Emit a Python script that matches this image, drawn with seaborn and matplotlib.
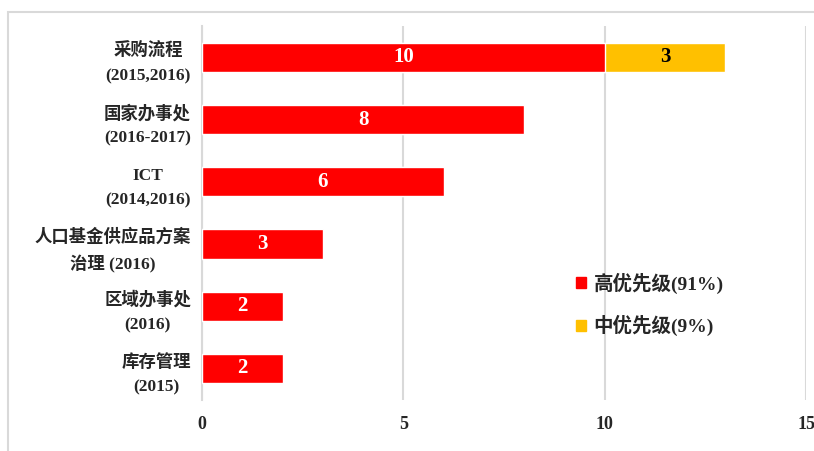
import pandas as pd
import matplotlib.pyplot as plt
import matplotlib.patches as mpatches
import seaborn as sns

# 数据
categories = ["采购流程\n(2015,2016)", "国家办事处\n(2016-2017)", "ICT\n(2014,2016)",
              "人口基金供应品方案\n治理 (2016)", "区域办事处\n(2016)", "库存管理\n(2015)"]
high_priority = [10, 8, 6, 3, 2, 2]
medium_priority = [3, 0, 0, 0, 0, 0]
legend_labels = ["高优先级(91%)", "中优先级(9%)"]
x_ticks = [0, 5, 10, 15]

RED = "#FF0000"
GOLD = "#FFC000"
GRID = "#D9D9D9"
FONTS = ["Liberation Serif", "Noto Sans CJK SC", "DejaVu Sans"]

sns.set_style("white")
plt.rcParams["font.family"] = FONTS
plt.rcParams["font.weight"] = "bold"

df = pd.DataFrame({"cat": categories, "high": high_priority, "medium": medium_priority})
df["total"] = df["high"] + df["medium"]

fig = plt.figure(figsize=(8.14, 4.51), dpi=100)
ax = fig.add_axes([0.2482, 0.114, 0.742, 0.828])

# 堆叠条形：先画总数（中优先级），再覆盖高优先级
sns.barplot(data=df, x="total", y="cat", orient="h", color=GOLD, width=0.47,
            saturation=1, ax=ax, zorder=3)
sns.barplot(data=df, x="high", y="cat", orient="h", color=RED, width=0.47,
            saturation=1, ax=ax, zorder=3)

for i, row in df.iterrows():
    ax.text(row["high"] / 2, i, str(row["high"]), ha="center", va="center",
            color="white", fontsize=15, fontweight="bold", family=FONTS, zorder=4)
    if row["medium"] > 0:
        ax.text(row["high"] + row["medium"] / 2, i, str(row["medium"]), ha="center",
                va="center", color="black", fontsize=15, fontweight="bold",
                family=FONTS, zorder=4)

ax.set_xlim(0, 15)
ax.set_ylim(5.5, -0.5)
ax.set_xticks(x_ticks)
ax.set_xticklabels([str(t) for t in x_ticks], fontsize=13, fontweight="bold")
ax.set_yticks(range(len(categories)))
ax.set_yticklabels(categories, fontsize=12.5, fontweight="bold",
                   multialignment="center", linespacing=1.7)
ax.tick_params(axis="x", length=0, pad=12)
ax.tick_params(axis="y", length=0, pad=8)
ax.set_xlabel("")
ax.set_ylabel("")
ax.xaxis.grid(True, color=GRID, linewidth=1.5, zorder=0)
ax.set_axisbelow(True)
for side in ["top", "right", "bottom"]:
    ax.spines[side].set_visible(False)
ax.spines["left"].set_color(GRID)
ax.spines["left"].set_linewidth(1.5)

handles = [mpatches.Patch(color=RED), mpatches.Patch(color=GOLD)]
leg = ax.legend(handles, legend_labels, loc="center left", bbox_to_anchor=(0.59, 0.255),
                frameon=False, handlelength=0.5, handleheight=0.5, handletextpad=0.4,
                labelspacing=1.1, prop={"family": FONTS, "size": 14, "weight": "bold"})

# 外框
fig.patches.append(mpatches.Rectangle((8 / 814, -0.1), 1.2, 1 - 12 / 451 + 0.1,
                                      transform=fig.transFigure, fill=False,
                                      edgecolor=GRID, linewidth=1.5))

fig.savefig("out.png", dpi=100)
